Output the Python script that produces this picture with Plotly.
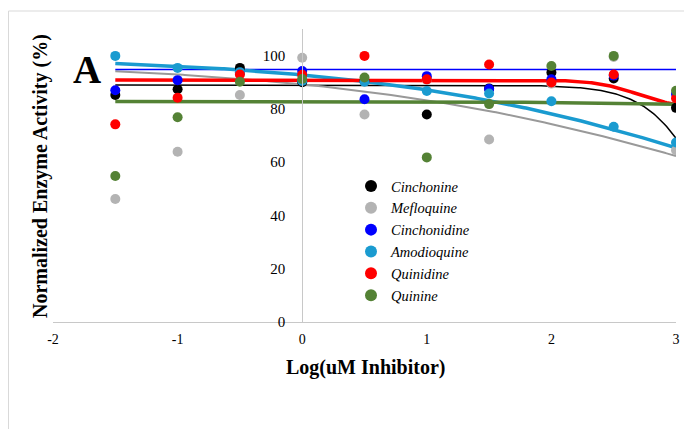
import numpy as np
import plotly.graph_objects as go

log_conc = [-1.5, -1.0, -0.5, 0.0, 0.5, 1.0, 1.5, 2.0, 2.5, 3.0]

names = ["Cinchonine", "Mefloquine", "Cinchonidine", "Amodioquine", "Quinidine", "Quinine"]
marker_colors = ["#000000", "#b3b3b3", "#0000ff", "#1a9bd0", "#ff0000", "#548235"]
line_colors = ["#000000", "#999999", "#0000ff", "#1a9bd0", "#ff0000", "#548235"]
line_widths = [1.5, 2, 1.5, 3.5, 3.5, 3.5]

cinchonine = [85.2, 87.4, 95.4, 90.0, 90.5, 77.9, 87.7, 93.7, 91.4, 80.4]
mefloquine = [46.2, 63.9, 85.2, 99.2, 77.9, 91.0, 68.5, 89.5, 99.5, 64.5]
cinchonidine = [87.0, 90.8, 93.5, 94.2, 83.6, 92.3, 87.5, 91.1, 92.5, 85.6]
amodioquine = [99.9, 95.4, 93.8, 90.5, 90.2, 86.7, 85.8, 82.9, 73.3, 67.4]
quinidine = [74.2, 84.2, 92.9, 92.8, 99.9, 91.1, 96.7, 89.9, 92.9, 84.0]
quinine = [54.8, 76.9, 90.2, 91.2, 91.8, 61.8, 81.8, 96.1, 99.9, 86.8]
series = [cinchonine, mefloquine, cinchonidine, amodioquine, quinidine, quinine]

# fitted dose-response (4PL) parameters: top, bottom, logIC50, hill
fit_top = [89.0, 98.0, 94.8, 100.0, 90.9, 82.8]
fit_bottom = [0.0, 0.0, 94.8, 0.0, 80.0, 81.6]
fit_logic50 = [3.30, 3.95, 2.0, 4.0, 2.7, 2.2]
fit_hill = [1.79, 0.255, 1.0, 0.277, 2.5, 1.0]

x_ticks = [-2, -1, 0, 1, 2, 3]
y_ticks = [0, 20, 40, 60, 80, 100]

FONT = "Liberation Serif, Times New Roman, serif"

fig = go.Figure()

xs = np.linspace(min(log_conc), max(log_conc), 300)
for i in range(len(names)):
    ys = fit_bottom[i] + (fit_top[i] - fit_bottom[i]) / (1 + 10 ** ((xs - fit_logic50[i]) * fit_hill[i]))
    fig.add_trace(go.Scatter(x=xs, y=ys, mode="lines", showlegend=False, hoverinfo="skip",
                             line=dict(color=line_colors[i], width=line_widths[i])))

for i in range(len(names)):
    fig.add_trace(go.Scatter(x=log_conc, y=series[i], mode="markers", name="<i>" + names[i] + "</i>",
                             legendgroup=names[i],
                             marker=dict(color=marker_colors[i], size=10)))

# page body has an 8px margin; lay out in reference pixel coordinates
OFF = 8
W, H = 692 - OFF, 429 - OFF
L = 53 - OFF
R = W - (676 - OFF)
T = 29 - OFF
B = H - (322 - OFF)
pw = W - L - R
ph = H - T - B

def px_x(p):
    return (p - OFF - L) / pw

def px_y(p):
    return (H - B - (p - OFF)) / ph

fig.update_layout(
    width=W, height=H,
    margin=dict(l=L, r=R, t=T, b=B),
    paper_bgcolor="white", plot_bgcolor="white",
    font=dict(family=FONT, size=14, color="#000000"),
    xaxis=dict(range=[-2, 3], tickvals=x_ticks, ticktext=[str(v) for v in x_ticks],
               showgrid=False, zeroline=False, showline=True, linecolor="#c8c8c8", linewidth=1,
               ticks="outside", ticklen=4, tickcolor="rgba(0,0,0,0)",
               tickfont=dict(family=FONT, size=14), anchor="y"),
    yaxis=dict(range=[0, 110], tickvals=y_ticks, showgrid=False, zeroline=False,
               showline=True, linecolor="#c8c8c8", linewidth=1,
               ticks="outside", ticklen=14, tickcolor="rgba(0,0,0,0)",
               anchor="free", position=0.4, tickfont=dict(family=FONT, size=15)),
    legend=dict(x=px_x(351), y=px_y(170), xanchor="left", yanchor="top",
                bgcolor="rgba(0,0,0,0)", font=dict(family=FONT, size=14.5),
                tracegroupgap=0, itemsizing="constant"),
    showlegend=True,
)

fig.add_annotation(text="<b>Normalized Enzyme Activity (%)</b>", xref="paper", yref="paper",
                   x=px_x(40), y=px_y(176), textangle=-90, showarrow=False,
                   font=dict(family=FONT, size=20), xanchor="center", yanchor="middle")
fig.add_annotation(text="<b>Log(uM Inhibitor)</b>", xref="paper", yref="paper",
                   x=px_x(365), y=px_y(367), showarrow=False,
                   font=dict(family=FONT, size=20), xanchor="center", yanchor="middle")
fig.add_annotation(text="<b>A</b>", xref="paper", yref="paper",
                   x=px_x(87), y=px_y(70), showarrow=False,
                   font=dict(family=FONT, size=39), xanchor="center", yanchor="middle")

fig.add_shape(type="rect", xref="paper", yref="paper",
              x0=px_x(8.5), x1=px_x(720), y0=px_y(460), y1=px_y(11),
              line=dict(color="#d9d9d9", width=1), fillcolor="rgba(0,0,0,0)", layer="below")

fig.write_html("out.html")
